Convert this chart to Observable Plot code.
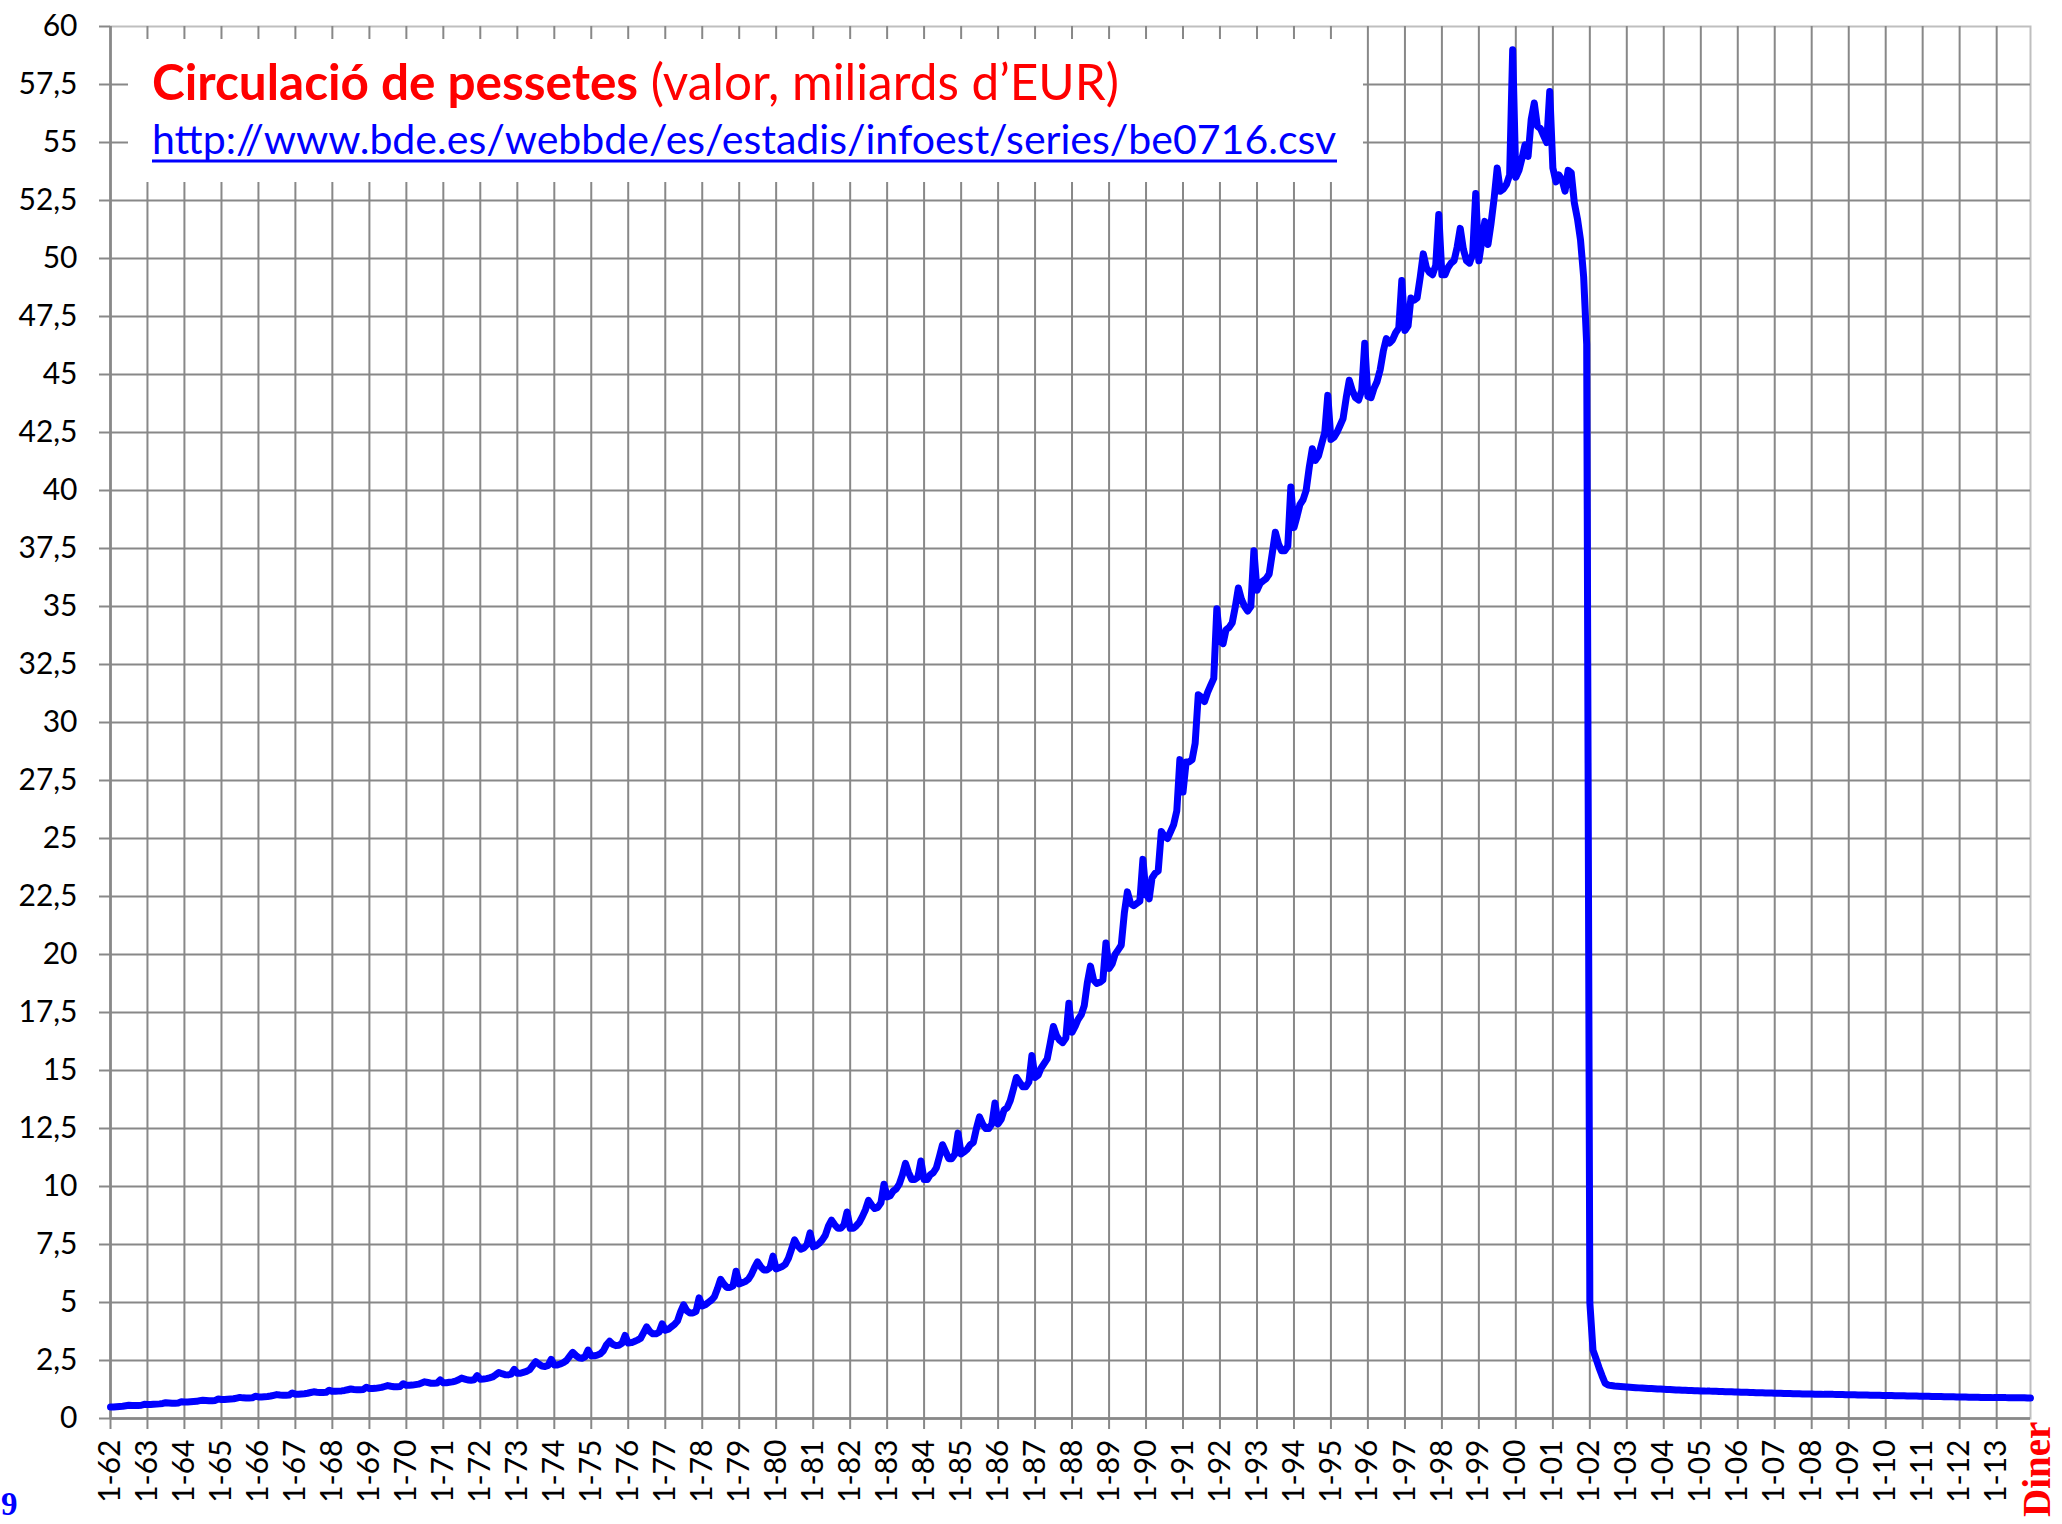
<!DOCTYPE html>
<html>
<head>
<meta charset="utf-8">
<script src="https://cdn.jsdelivr.net/npm/d3@7"></script>
<script src="https://cdn.jsdelivr.net/npm/@observablehq/plot@0.6"></script>
<style>
  html, body { margin: 0; padding: 0; background: #fff; }
  #wrap { position: relative; width: 2062px; height: 1524px; overflow: hidden; background: #fff; }
  #wrap > svg.overlay { position: absolute; left: 0; top: 0; pointer-events: none; }
</style>
</head>
<body>
<div id="wrap"></div>
<script>
// ---- Data: banknotes/coins in pesetas in circulation (billions of EUR), monthly ----
const firstYear = 1962;
const lastYear = 2013;

// one row per year, Jan..Dec
const values1962_1969 = [
  0.50, 0.50, 0.51, 0.52, 0.53, 0.55, 0.57, 0.56, 0.56, 0.56, 0.57, 0.61,
  0.60, 0.60, 0.61, 0.62, 0.63, 0.65, 0.68, 0.67, 0.66, 0.66, 0.67, 0.72,
  0.71, 0.71, 0.72, 0.73, 0.74, 0.77, 0.79, 0.78, 0.77, 0.77, 0.78, 0.84,
  0.82, 0.82, 0.83, 0.84, 0.85, 0.88, 0.91, 0.89, 0.88, 0.88, 0.89, 0.96,
  0.93, 0.93, 0.94, 0.95, 0.97, 1.00, 1.03, 1.01, 1.00, 1.00, 1.01, 1.10,
  1.05, 1.05, 1.06, 1.07, 1.09, 1.12, 1.15, 1.13, 1.12, 1.12, 1.13, 1.22,
  1.17, 1.17, 1.18, 1.19, 1.21, 1.24, 1.27, 1.25, 1.24, 1.24, 1.25, 1.35,
  1.29, 1.29, 1.30, 1.32, 1.34, 1.38, 1.42, 1.39, 1.37, 1.37, 1.38, 1.50
];
const values1970_1979 = [
  1.43, 1.43, 1.44, 1.46, 1.48, 1.53, 1.58, 1.55, 1.52, 1.52, 1.53, 1.66,
  1.54, 1.54, 1.56, 1.58, 1.61, 1.67, 1.74, 1.70, 1.66, 1.65, 1.67, 1.85,
  1.69, 1.70, 1.72, 1.75, 1.79, 1.88, 1.98, 1.93, 1.89, 1.88, 1.91, 2.12,
  1.95, 1.95, 1.99, 2.03, 2.10, 2.28, 2.45, 2.35, 2.26, 2.24, 2.29, 2.55,
  2.31, 2.31, 2.35, 2.41, 2.50, 2.68, 2.85, 2.72, 2.62, 2.60, 2.66, 2.95,
  2.70, 2.70, 2.73, 2.79, 2.92, 3.18, 3.33, 3.20, 3.14, 3.16, 3.24, 3.58,
  3.25, 3.27, 3.32, 3.38, 3.45, 3.70, 3.95, 3.75, 3.65, 3.65, 3.72, 4.08,
  3.80, 3.85, 3.95, 4.05, 4.20, 4.60, 4.90, 4.65, 4.55, 4.55, 4.62, 5.20,
  4.85, 4.90, 5.00, 5.10, 5.25, 5.60, 6.00, 5.80, 5.65, 5.65, 5.72, 6.35,
  5.80, 5.85, 5.90, 6.00, 6.20, 6.50, 6.75, 6.55, 6.40, 6.40, 6.50, 7.00
];
const values1980_1989 = [
  6.45, 6.50, 6.55, 6.65, 6.90, 7.30, 7.70, 7.45, 7.30, 7.35, 7.50, 8.00,
  7.40, 7.45, 7.55, 7.70, 7.90, 8.30, 8.55, 8.35, 8.20, 8.20, 8.35, 8.90,
  8.20, 8.20, 8.30, 8.45, 8.70, 9.00, 9.40, 9.20, 9.05, 9.10, 9.30, 10.10,
  9.55, 9.60, 9.80, 9.90, 10.10, 10.50, 11.00, 10.60, 10.30, 10.30, 10.40, 11.10,
  10.30, 10.30, 10.50, 10.60, 10.80, 11.30, 11.80, 11.50, 11.20, 11.20, 11.40, 12.30,
  11.40, 11.50, 11.60, 11.80, 11.90, 12.50, 13.00, 12.70, 12.50, 12.50, 12.70, 13.60,
  12.70, 12.90, 13.30, 13.40, 13.70, 14.20, 14.70, 14.50, 14.30, 14.30, 14.50, 15.65,
  14.70, 14.80, 15.10, 15.30, 15.50, 16.20, 16.90, 16.50, 16.30, 16.20, 16.40, 17.90,
  16.65, 16.90, 17.20, 17.40, 17.80, 18.80, 19.50, 18.90, 18.75, 18.80, 18.90, 20.50,
  19.40, 19.60, 20.00, 20.20, 20.40, 21.80, 22.70, 22.20, 22.10, 22.20, 22.30, 24.10
];
const values1990_1999 = [
  22.60, 22.40, 23.30, 23.50, 23.60, 25.30, 25.10, 25.00, 25.30, 25.60, 26.20, 28.40,
  27.00, 28.30, 28.30, 28.40, 29.10, 31.20, 31.10, 30.90, 31.30, 31.60, 31.90, 34.90,
  33.50, 33.40, 34.00, 34.10, 34.30, 35.00, 35.80, 35.30, 35.00, 34.80, 35.00, 37.40,
  35.70, 36.00, 36.10, 36.20, 36.40, 37.30, 38.20, 37.70, 37.40, 37.40, 37.60, 40.15,
  38.40, 38.90, 39.40, 39.60, 40.00, 41.00, 41.80, 41.30, 41.50, 42.00, 42.50, 44.10,
  42.20, 42.30, 42.50, 42.80, 43.10, 44.00, 44.75, 44.30, 44.00, 43.90, 44.30, 46.35,
  44.05, 44.00, 44.40, 44.70, 45.20, 46.00, 46.55, 46.36, 46.50, 46.80, 47.00, 49.05,
  46.90, 47.10, 48.30, 48.20, 48.30, 49.20, 50.20, 49.60, 49.40, 49.30, 49.70, 51.90,
  49.30, 49.30, 49.60, 49.80, 49.90, 50.50, 51.30, 50.40, 49.90, 49.80, 50.20, 52.80,
  49.90, 50.80, 51.60, 50.60, 51.50, 52.60, 53.90, 52.90, 53.00, 53.20, 53.60, 59.00
];
const values2000_2009 = [
  53.50, 53.80, 54.30, 54.90, 54.40, 56.00, 56.70, 55.70, 55.60, 55.30, 55.00, 57.20,
  53.90, 53.30, 53.60, 53.40, 52.90, 53.80, 53.70, 52.40, 51.70, 50.80, 49.20, 46.30,
  5.00, 2.95, 2.60, 2.20, 1.85, 1.52, 1.44, 1.42, 1.40, 1.39, 1.38, 1.37,
  1.36, 1.35, 1.34, 1.33, 1.32, 1.31, 1.30, 1.29, 1.29, 1.28, 1.27, 1.27,
  1.26, 1.25, 1.25, 1.24, 1.23, 1.23, 1.22, 1.22, 1.21, 1.21, 1.20, 1.20,
  1.19, 1.19, 1.18, 1.18, 1.17, 1.17, 1.16, 1.16, 1.15, 1.15, 1.15, 1.14,
  1.14, 1.13, 1.13, 1.13, 1.12, 1.12, 1.11, 1.11, 1.11, 1.10, 1.10, 1.10,
  1.09, 1.09, 1.09, 1.08, 1.08, 1.08, 1.07, 1.07, 1.07, 1.06, 1.06, 1.06,
  1.06, 1.05, 1.05, 1.05, 1.04, 1.04, 1.04, 1.04, 1.03, 1.03, 1.03, 1.02,
  1.02, 1.02, 1.02, 1.01, 1.01, 1.01, 1.01, 1.00, 1.00, 1.00, 1.00, 0.99
];
const values2010_2013 = [
  0.99, 0.99, 0.99, 0.98, 0.98, 0.98, 0.98, 0.97, 0.97, 0.97, 0.97, 0.96,
  0.96, 0.96, 0.96, 0.95, 0.95, 0.95, 0.95, 0.94, 0.94, 0.94, 0.94, 0.93,
  0.93, 0.93, 0.93, 0.92, 0.92, 0.92, 0.92, 0.91, 0.91, 0.91, 0.91, 0.90,
  0.90, 0.90, 0.90, 0.90, 0.89, 0.89, 0.89, 0.89, 0.89, 0.89, 0.88, 0.88
];

const yTickValues = [0, 2.5, 5, 7.5, 10, 12.5, 15, 17.5, 20, 22.5, 25, 27.5, 30, 32.5, 35, 37.5, 40, 42.5, 45, 47.5, 50, 52.5, 55, 57.5, 60];
const xTickYears = d3.range(firstYear, lastYear + 1);

const titleBold = "Circulació de pessetes";
const titleRest = " (valor, miliards d’EUR)";
const sourceUrl = "http://www.bde.es/webbde/es/estadis/infoest/series/be0716.csv";
const cornerLeft = "9";
const cornerRight = "Diner";

// ---- Build table ----
const allValues = [].concat(values1962_1969, values1970_1979, values1980_1989, values1990_1999, values2000_2009, values2010_2013);
const table = allValues.map((v, i) => ({
  date: new Date(Date.UTC(firstYear + Math.floor(i / 12), i % 12, 1)),
  value: v
}));
const xTicks = xTickYears.map(y => new Date(Date.UTC(y, 0, 1)));
const fmtYY = d3.utcFormat("%y");
const grid = "#888888";

const chart = Plot.plot({
  width: 2062,
  height: 1524,
  marginLeft: 110,
  marginRight: 32,
  marginTop: 26,
  marginBottom: 106,
  style: { fontFamily: "Lato, 'Open Sans', sans-serif", fontSize: "30px", background: "#fff", color: "#000", overflow: "visible" },
  x: { type: "utc", domain: [table[0].date, table[table.length - 1].date] },
  y: { domain: [0, 60] },
  marks: [
    Plot.frame({ stroke: "#bfbfbf", strokeWidth: 2 }),
    Plot.gridY(yTickValues.filter(v => v < 60), { stroke: grid, strokeOpacity: 1, strokeWidth: 2 }),
    Plot.gridX(xTicks, { stroke: grid, strokeOpacity: 1, strokeWidth: 2 }),
    Plot.axisY(yTickValues, {
      tickSize: 11, tickPadding: 22, stroke: grid, strokeWidth: 2, label: null,
      tickFormat: d => String(d).replace(".", ","), fill: "#000", fontSize: 30
    }),
    Plot.axisX(xTicks, {
      tickSize: 11, tickPadding: 10, tickRotate: -90, stroke: grid, strokeWidth: 2, label: null,
      tickFormat: d => "1-" + fmtYY(d), fill: "#000", fontSize: 30
    }),
    Plot.ruleX([table[0].date], { stroke: grid, strokeWidth: 2.5 }),
    Plot.ruleY([0], { stroke: grid, strokeWidth: 2.5 }),
    Plot.line(table, { x: "date", y: "value", stroke: "#0000ff", strokeWidth: 7, strokeLinejoin: "round", strokeLinecap: "round" })
  ]
});

const wrap = document.getElementById("wrap");
wrap.appendChild(chart);

// ---- Overlay: title box and corner texts ----
const NS = "http://www.w3.org/2000/svg";
const ov = document.createElementNS(NS, "svg");
ov.setAttribute("class", "overlay");
ov.setAttribute("width", 2062);
ov.setAttribute("height", 1524);
ov.innerHTML = `
  <rect x="128" y="39" width="1235" height="143" fill="#fff"></rect>
  <text id="t1" x="152" y="100" font-family="Lato, 'Open Sans', sans-serif" font-size="44" fill="#ff0000"><tspan font-weight="bold"></tspan><tspan></tspan></text>
  <text id="t2" x="152" y="154" font-family="Lato, 'Open Sans', sans-serif" font-size="40" fill="#0000ff"></text>
  <line id="ul" x1="152" x2="1337" y1="161" y2="161" stroke="#0000ff" stroke-width="3"></line>
  <text x="1" y="1515" font-family="'Liberation Serif', 'Times New Roman', serif" font-weight="bold" font-size="33" fill="#0000ff"></text>
  <text transform="translate(2050,1517) rotate(-90)" font-family="'Liberation Serif', 'Times New Roman', serif" font-weight="bold" font-size="39" fill="#ff0000"></text>
`;
wrap.appendChild(ov);
const texts = ov.querySelectorAll("text");
texts[0].children[0].textContent = titleBold;
texts[0].children[1].textContent = titleRest;
texts[1].textContent = sourceUrl;
texts[2].textContent = cornerLeft;
texts[3].textContent = cornerRight;

function fit(el, target) {
  const w = el.getComputedTextLength();
  if (w > 0) {
    const fs = parseFloat(el.getAttribute("font-size"));
    el.setAttribute("font-size", (fs * target / w).toFixed(2));
  }
}
function fitAll() {
  fit(texts[0], 967);
  fit(texts[1], 1184);
}
fitAll();
if (document.fonts && document.fonts.ready) document.fonts.ready.then(fitAll);
</script>
</body>
</html>
